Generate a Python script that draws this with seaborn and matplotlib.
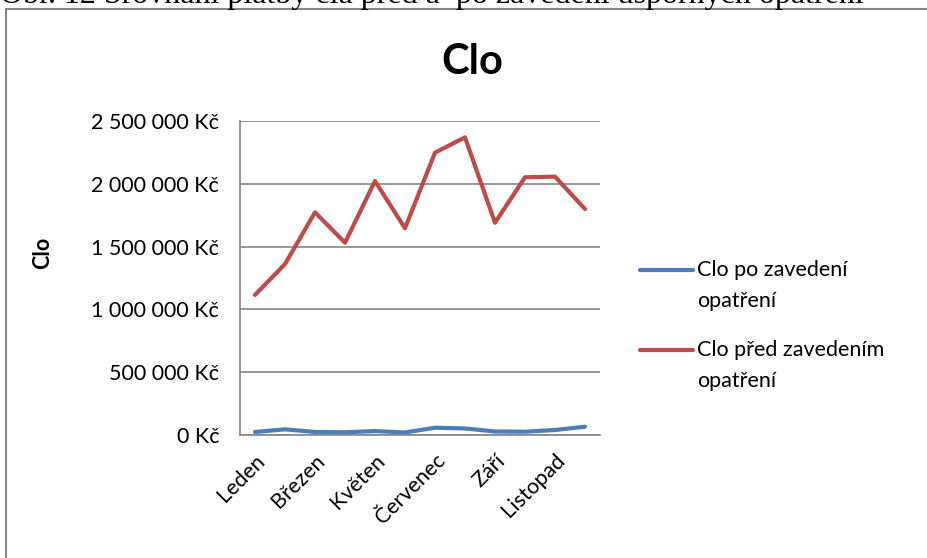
import pandas as pd
import seaborn as sns
import matplotlib.pyplot as plt
from matplotlib.ticker import FuncFormatter, MultipleLocator
from matplotlib.lines import Line2D

months = ['Leden', 'Únor', 'Březen', 'Duben', 'Květen', 'Červen',
          'Červenec', 'Srpen', 'Září', 'Říjen', 'Listopad', 'Prosinec']
clo_po = [24000, 45000, 24000, 22000, 31000, 20000, 58000, 52000, 28000, 26000, 40000, 66000]
clo_pred = [1115000, 1361000, 1773000, 1531000, 2022000, 1646000,
            2248000, 2370000, 1690000, 2052000, 2057000, 1799000]
series_names = ['Clo po zavedení opatření', 'Clo před zavedením opatření']
legend_lines = [['Clo po zavedení', 'opatření'], ['Clo před zavedením', 'opatření']]
colors = ['#4A7EBB', '#BE4B48']

df = pd.DataFrame({
    'x': list(range(len(months))) * 2,
    'value': clo_po + clo_pred,
    'series': [series_names[0]] * len(months) + [series_names[1]] * len(months),
})

sns.set_style('white', {'text.color': 'black', 'axes.labelcolor': 'black',
                        'xtick.color': 'black', 'ytick.color': 'black'})
plt.rcParams['font.family'] = ['Lato', 'DejaVu Sans']
fs = 15.5

W, H = 927, 558
fig = plt.figure(figsize=(W / 100, H / 100), dpi=100)
ax = fig.add_axes([240 / W, 1 - 435 / H, 360 / W, 314 / H])

sns.lineplot(data=df, x='x', y='value', hue='series', palette=colors,
             linewidth=3, ax=ax, legend=False, solid_capstyle='round')

ax.set_xlim(-0.5, len(months) - 0.5)
ax.set_ylim(0, 2500000)
ax.yaxis.set_major_locator(MultipleLocator(500000))
ax.yaxis.set_major_formatter(FuncFormatter(lambda v, p: f'{int(v):,} Kč'.replace(',', ' ')))
ax.grid(axis='y', color='#868686', linewidth=1.2)
ax.set_axisbelow(True)
for s in ['top', 'right']:
    ax.spines[s].set_visible(False)
for s in ['left', 'bottom']:
    ax.spines[s].set_color('#868686')
    ax.spines[s].set_linewidth(1.2)

ax.set_xticks(range(0, len(months), 2))
ax.set_xticklabels(months[::2], rotation=45, ha='right', rotation_mode='anchor')
ax.tick_params(axis='x', length=0, labelsize=fs, pad=11)
ax.tick_params(axis='y', length=3, width=1.2, color='#868686', labelsize=fs, pad=12)
ax.set_xlabel('')
ax.set_ylabel('Clo', fontsize=fs, fontweight='bold')
ax.yaxis.set_label_coords((53 - 240) / 360, 0.58)

fig.text(472 / W, 1 - 62 / H, 'Clo', fontsize=30, fontweight='bold', ha='center', va='center')

# legend, text wrapped like in the original chart
for i, (c, lines) in enumerate(zip(colors, legend_lines)):
    y0 = 270 + i * 80
    fig.add_artist(Line2D([640 / W, 693 / W], [1 - y0 / H, 1 - y0 / H], color=c,
                          linewidth=3, solid_capstyle='round'))
    for j, t in enumerate(lines):
        fig.text(697 / W, 1 - (y0 + j * 31) / H, t, fontsize=fs, ha='left', va='center')

# caption of the figure in the document, cut by the page edge
fig.text(0.0, 1 - 2.5 / H, 'Obr. 12 Srovnání platby cla před a  po zavedení úsporných opatření',
         fontsize=23, family='Liberation Serif', ha='left', va='baseline')

# frame around the chart
fig.add_artist(plt.Rectangle((5.5 / W, -0.1), 1.2, 1.1 - 9.5 / H, transform=fig.transFigure,
                             fill=False, edgecolor='#868686', linewidth=1.5))

fig.savefig('out.png', dpi=100)
